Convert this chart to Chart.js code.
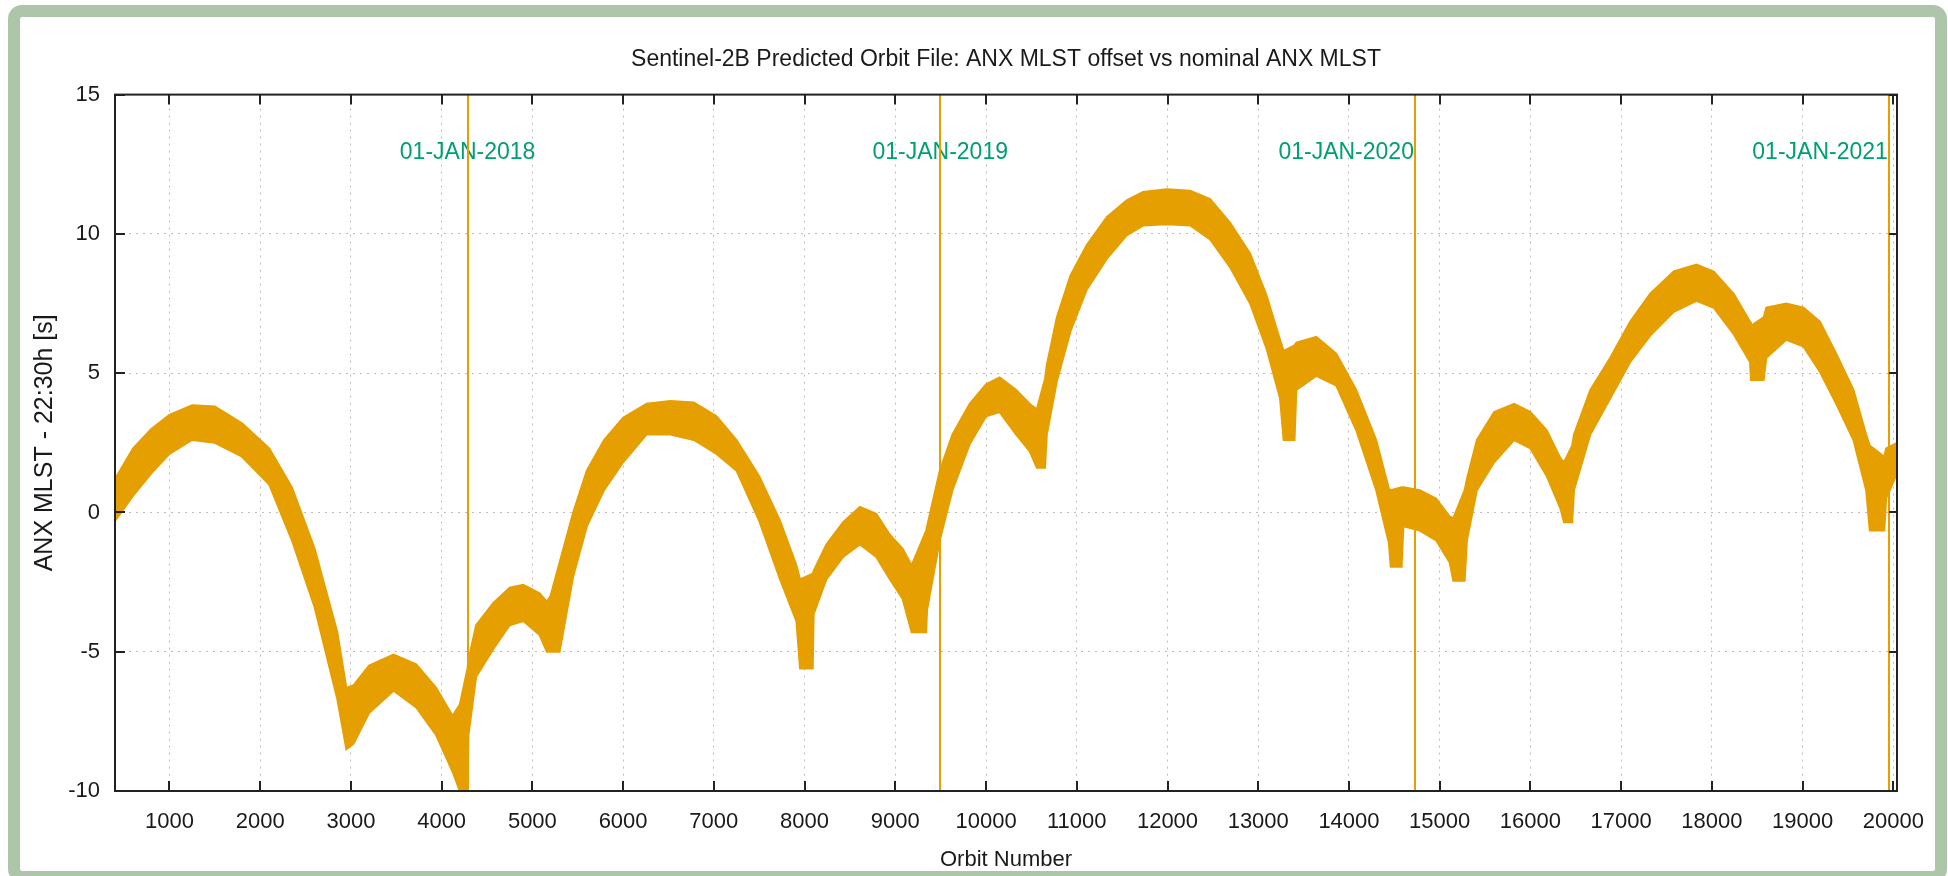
<!DOCTYPE html>
<html>
<head>
<meta charset="utf-8">
<script src="https://cdn.jsdelivr.net/npm/chart.js@4.4.1/dist/chart.umd.min.js"></script>
<style>
    html, body { margin: 0; padding: 0; background: #fff; overflow: hidden; }
    .frame {
        position: absolute; left: 8px; top: 5px;
        width: 1915px; height: 854px;
        border: 12px solid #adc5a8; border-radius: 14px;
        background: #fff;
    }
    #orbitChart { position: absolute; left: 0; top: 0; }
</style>
</head>
<body>
<div class="frame"></div>
<canvas id="orbitChart" width="1948" height="876"></canvas>
<script>
// orbit samples with the upper / lower edge of the plotted band (s)
const orbits = [400, 600, 800, 1000, 1250, 1500, 1800, 2100, 2350, 2600,
    2850, 2950, 3030, 3200, 3470, 3720, 3940, 4120, 4200, 4285,
    4295, 4380, 4570, 4750, 4900, 5080, 5160, 5200, 5300, 5450,
    5600, 5790, 6000, 6260, 6520, 6780, 7030, 7250, 7500, 7730,
    7910, 7950, 8090, 8100, 8240, 8425, 8610, 8790, 8940, 9080,
    9180, 9340, 9350, 9490, 9630, 9820, 10000, 10150, 10330, 10480,
    10560, 10650, 10670, 10780, 10930, 11110, 11330, 11550, 11730, 11990,
    12250, 12470, 12690, 12910, 13090, 13240, 13280, 13400, 13420, 13640,
    13860, 14080, 14300, 14440, 14460, 14580, 14600, 14780, 14960, 15110,
    15150, 15275, 15300, 15410, 15600, 15820, 16000, 16180, 16330, 16370,
    16460, 16480, 16660, 16880, 17100, 17320, 17580, 17830, 18020, 18240,
    18420, 18430, 18570, 18600, 18820, 19010, 19190, 19370, 19560, 19700,
    19740, 19900, 19920, 20040];

const upperOffset = [1.2, 2.3, 3.0, 3.5, 3.85, 3.8, 3.2, 2.3, 0.9, -1.3,
    -4.3, -6.3, -6.2, -5.5, -5.1, -5.45, -6.3, -7.3, -6.9, -5.6,
    -5.3, -4.05, -3.25, -2.7, -2.6, -2.9, -3.2, -3.0, -1.8, 0.0,
    1.5, 2.6, 3.4, 3.9, 4.0, 3.95, 3.45, 2.6, 1.3, -0.3,
    -1.9, -2.4, -2.2, -2.1, -1.15, -0.35, 0.2, -0.05, -0.8, -1.3,
    -1.9, -0.65, -0.5, 1.5, 2.8, 3.9, 4.6, 4.85, 4.4, 3.9,
    3.7, 4.8, 5.3, 7.0, 8.5, 9.6, 10.6, 11.2, 11.5, 11.6,
    11.55, 11.25, 10.4, 9.3, 7.8, 6.2, 5.8, 6.0, 6.1, 6.3,
    5.7, 4.4, 2.6, 0.85, 0.8, 0.9, 0.9, 0.8, 0.5, -0.15,
    -0.2, 0.8, 1.2, 2.6, 3.6, 3.9, 3.6, 2.95, 1.95, 1.8,
    2.4, 2.8, 4.4, 5.55, 6.85, 7.85, 8.65, 8.9, 8.65, 7.85,
    6.85, 6.7, 7.0, 7.35, 7.5, 7.35, 6.85, 5.7, 4.4, 2.8,
    2.4, 2.0, 2.3, 2.5];

const lowerOffset = [-0.3, 0.6, 1.4, 2.1, 2.6, 2.5, 2.0, 1.0, -1.0, -3.4,
    -6.7, -8.5, -8.3, -7.2, -6.4, -7.0, -8.0, -9.3, -10, -10,
    -8.0, -5.9, -4.9, -4.05, -3.9, -4.4, -5.0, -5.0, -5.0, -2.3,
    -0.5, 0.8, 1.8, 2.8, 2.8, 2.6, 2.1, 1.5, -0.3, -2.4,
    -3.9, -5.6, -5.6, -3.65, -2.4, -1.6, -1.15, -1.6, -2.4, -3.1,
    -4.3, -4.3, -3.5, -1.0, 0.8, 2.45, 3.45, 3.6, 2.8, 2.2,
    1.6, 1.6, 2.8, 4.7, 6.5, 8.0, 9.1, 9.95, 10.3, 10.35,
    10.3, 9.8, 8.8, 7.5, 5.9, 4.1, 2.6, 2.6, 4.4, 4.9,
    4.55, 2.95, 0.8, -1.1, -1.95, -1.95, -0.5, -0.65, -1.0, -1.8,
    -2.45, -2.45, -1.0, 0.8, 1.8, 2.6, 2.3, 1.3, 0.15, -0.35,
    -0.35, 0.8, 2.8, 4.1, 5.4, 6.35, 7.2, 7.6, 7.35, 6.4,
    5.4, 4.75, 4.75, 5.55, 6.2, 5.95, 5.05, 3.9, 2.6, 0.8,
    -0.65, -0.65, 0.5, 1.4];

// axis ticks
const orbitTicks = [1000, 2000, 3000, 4000, 5000, 6000, 7000, 8000, 9000, 10000,
    11000, 12000, 13000, 14000, 15000, 16000, 17000, 18000, 19000, 20000];
const offsetTicks = [-10, -5, 0, 5, 10, 15];

// start-of-year markers
const yearOrbits = [4286, 9495, 14727, 19950];
const yearLabels = ['01-JAN-2018', '01-JAN-2019', '01-JAN-2020', '01-JAN-2021'];
const yearLabelLevel = 12.9;

const FONT = 'Liberation Sans, Arial, Helvetica, sans-serif';
const ORANGE = '#e69f00';
const labelAlign = ['center', 'center', 'right', 'right'];

const gnuplotFrame = {
    id: 'gnuplotFrame',
    afterDatasetsDraw(chart) {
        const { ctx, chartArea: a, scales: { x, y } } = chart;
        ctx.save();
        // year labels
        ctx.font = '23px ' + FONT;
        ctx.fillStyle = '#009e73';
        ctx.textBaseline = 'middle';
        yearOrbits.forEach((orbit, i) => {
            const px = x.getPixelForValue(orbit);
            ctx.textAlign = labelAlign[i];
            ctx.fillText(yearLabels[i], labelAlign[i] === 'right' ? px - 1 : px, y.getPixelForValue(yearLabelLevel));
        });
        // year lines
        ctx.strokeStyle = ORANGE;
        ctx.lineWidth = 2;
        yearOrbits.forEach(orbit => {
            const px = Math.round(x.getPixelForValue(orbit));
            ctx.beginPath();
            ctx.moveTo(px, a.top);
            ctx.lineTo(px, a.bottom);
            ctx.stroke();
        });
        // inward tick marks on all four sides
        ctx.strokeStyle = '#222';
        ctx.lineWidth = 2;
        x.ticks.forEach(t => {
            const px = Math.round(x.getPixelForValue(t.value));
            ctx.beginPath();
            ctx.moveTo(px, a.bottom); ctx.lineTo(px, a.bottom - 10);
            ctx.moveTo(px, a.top); ctx.lineTo(px, a.top + 10);
            ctx.stroke();
        });
        y.ticks.forEach(t => {
            const py = Math.round(y.getPixelForValue(t.value));
            ctx.beginPath();
            ctx.moveTo(a.left, py); ctx.lineTo(a.left + 10, py);
            ctx.moveTo(a.right, py); ctx.lineTo(a.right - 8, py);
            ctx.stroke();
        });
        // plot border
        ctx.strokeRect(a.left, a.top, a.right - a.left, a.bottom - a.top);
        ctx.restore();
    }
};

const ctx = document.getElementById('orbitChart').getContext('2d');
new Chart(ctx, {
    type: 'line',
    data: {
        datasets: [{
            label: 'lower',
            data: orbits.map((o, i) => ({ x: o, y: lowerOffset[i] })),
            borderColor: ORANGE,
            borderWidth: 2,
            pointRadius: 0,
            fill: false
        }, {
            label: 'upper',
            data: orbits.map((o, i) => ({ x: o, y: upperOffset[i] })),
            borderColor: ORANGE,
            backgroundColor: ORANGE,
            borderWidth: 2,
            pointRadius: 0,
            fill: '-1'
        }]
    },
    options: {
        responsive: false,
        animation: false,
        layout: { padding: { left: 0, right: 51, top: 0, bottom: 0 } },
        plugins: {
            legend: { display: false },
            tooltip: { enabled: false },
            title: {
                display: true,
                fullSize: false,
                text: 'Sentinel-2B Predicted Orbit File: ANX MLST offset vs nominal ANX MLST',
                color: '#1a1a1a',
                font: { family: FONT, size: 23, weight: 'normal' },
                padding: { top: 46, bottom: 21 }
            }
        },
        scales: {
            x: {
                type: 'linear',
                min: 400,
                max: 20040,
                afterFit: s => { s.height = 85; },
                afterBuildTicks: s => { s.ticks = orbitTicks.map(v => ({ value: v })); },
                ticks: {
                    autoSkip: false,
                    maxRotation: 0,
                    padding: 18,
                    color: '#1a1a1a',
                    font: { family: FONT, size: 22 },
                    callback: v => String(v)
                },
                grid: { color: '#bdbdbd', lineWidth: 1, drawTicks: false },
                border: { display: false, dash: [2, 5] },
                title: {
                    display: true,
                    text: 'Orbit Number',
                    color: '#1a1a1a',
                    font: { family: FONT, size: 22 },
                    padding: { top: 0, bottom: 3 }
                }
            },
            y: {
                min: -10,
                max: 15,
                afterFit: s => { s.width = 115; },
                afterBuildTicks: s => { s.ticks = offsetTicks.map(v => ({ value: v })); },
                ticks: {
                    padding: 15,
                    color: '#1a1a1a',
                    font: { family: FONT, size: 22 }
                },
                grid: { color: '#bdbdbd', lineWidth: 1, drawTicks: false },
                border: { display: false, dash: [2, 5] },
                title: {
                    display: true,
                    text: 'ANX MLST - 22:30h [s]',
                    color: '#1a1a1a',
                    font: { family: FONT, size: 25 },
                    padding: { top: 30, bottom: 0 }
                }
            }
        }
    },
    plugins: [gnuplotFrame]
});
</script>
</body>
</html>
